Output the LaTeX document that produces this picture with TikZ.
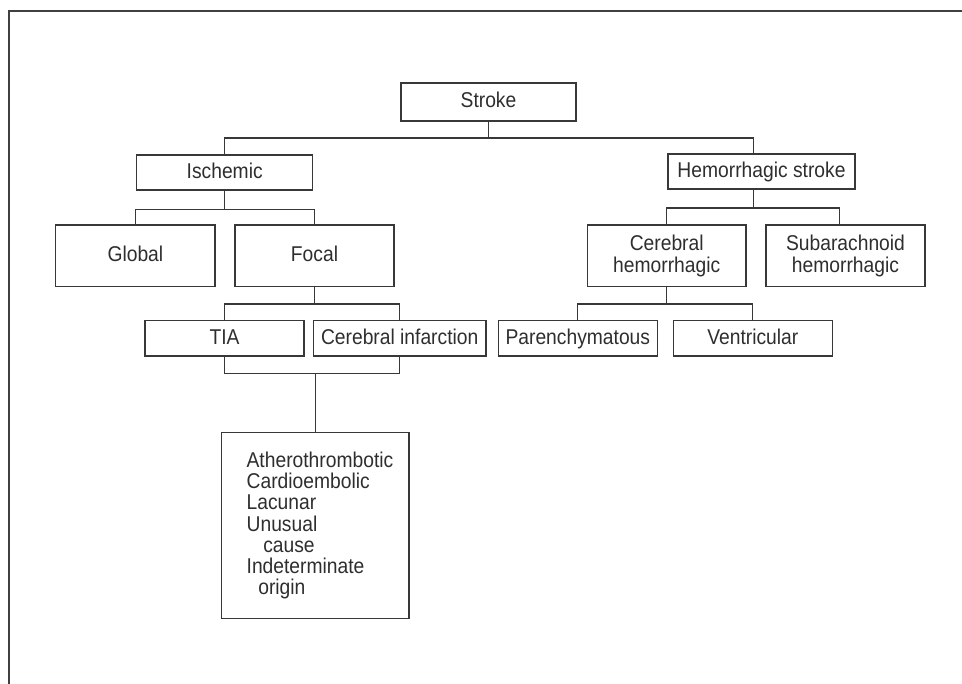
\documentclass[tikz,border=0pt]{standalone}
\usepackage{fontspec}
\setmainfont[FakeStretch=0.9]{Liberation Sans}
\usetikzlibrary{calc}
\tikzset{
  box/.style={draw=black!78, line width=1.3pt, inner sep=0pt, outer sep=0pt,
    text=black!82, font=\fontsize{21.4}{22}\selectfont, align=center},
  one/.style={text height=15.5pt, text depth=4.1pt},
  conn/.style={draw=black!78, line width=1.3pt},
  frame/.style={draw=black!75, line width=2.2pt}
}
\begin{document}
\begin{tikzpicture}[x=1pt,y=-1pt]
\useasboundingbox (0,0) rectangle (962,684);
\draw[frame] (962,11) -- (9,11) -- (9,684);

\node[box, one, minimum width=175pt, minimum height=38pt] (stroke) at (488.5,102) {Stroke};
\node[box, one, minimum width=176pt, minimum height=35pt] (isch) at (224.7,172.5) {Ischemic};
\node[box, one, minimum width=187pt, minimum height=35pt] (hem) at (761.5,171.5) {Hemorrhagic stroke};

\node[box, one, minimum width=159.3pt, minimum height=61.7pt] (global) at (135.4,255.8) {Global};
\node[box, one, minimum width=159pt, minimum height=61.7pt] (focal) at (314.5,255.8) {Focal};
\node[box, minimum width=158.7pt, minimum height=61.7pt] (cerhem) at (666.7,255.8) {Cerebral\\hemorrhagic};
\node[box, minimum width=159pt, minimum height=61.7pt] (subara) at (845.5,255.8) {Subarachnoid\\hemorrhagic};

\node[box, one, minimum width=159pt, minimum height=35.3pt] (tia) at (224.5,338.4) {TIA};
\node[box, one, minimum width=172.7pt, minimum height=35.3pt] (cinf) at (399.7,338.4) {Cerebral infarction};
\node[box, one, minimum width=159pt, minimum height=35.3pt] (paren) at (577.8,338.4) {Parenchymatous};
\node[box, one, minimum width=159pt, minimum height=35.3pt] (vent) at (752.8,338.4) {Ventricular};

\node[box, minimum width=187.3pt, minimum height=185.6pt, inner xsep=25pt,
  text width=137.3pt, align=left, font=\fontsize{21.4}{21.1}\selectfont] (causes) at (315.3,525.5)
  {Atherothrombotic\\Cardioembolic\\Lacunar\\Unusual\\\hspace*{16.6pt}cause\\Indeterminate\\\hspace*{11.7pt}origin};

% connectors
\draw[conn] (stroke.south) -- ++(0,17) coordinate (j1);
\draw[conn] (isch.north) |- (j1) -| ([xshift=-8pt]hem.north);

\draw[conn] (isch.south) -- ++(0,19.3) coordinate (j2);
\draw[conn] (global.north) |- (j2) -| (focal.north);

\draw[conn] (focal.south) -- ++(0,17.5) coordinate (j3);
\draw[conn] (tia.north) |- (j3) -| (cinf.north);

\draw[conn] (tia.south) -- ++(0,17.3) coordinate (j4) -| (cinf.south);
\draw[conn] (causes.north) -- (causes.north |- j4);

\draw[conn] ([xshift=-8pt]hem.south) -- ++(0,19) coordinate (j5);
\draw[conn] (cerhem.north) |- (j5) -| ([xshift=-6pt]subara.north);

\draw[conn] (cerhem.south) -- ++(0,17.5) coordinate (j6);
\draw[conn] (paren.north) |- (j6) -| (vent.north);
\end{tikzpicture}
\end{document}
